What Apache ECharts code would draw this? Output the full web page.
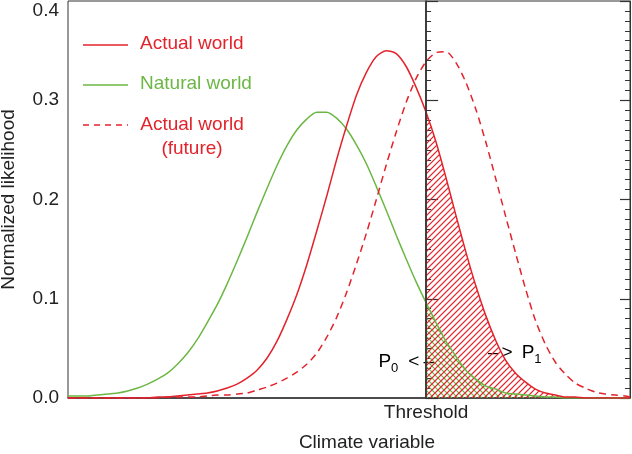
<!DOCTYPE html>
<html><head><meta charset="utf-8">
<script src="https://cdn.jsdelivr.net/npm/echarts@6/dist/echarts.min.js"></script>
<style>html,body{margin:0;padding:0;background:#fff}#c{width:632px;height:454px}</style>
</head><body><div id="c"></div>
<script>
// climate variable (arbitrary units, threshold at 0)
const xs = [-36,-35,-34,-33,-32,-31,-30,-29,-28,-27,-26,-25,-24,-23,-22,-21,-20,-19,-18,-17,-16,-15,-14,-13,-12,-11,-10,-9,-8,-7,-6,-5,-4,-3,-2,-1,0,1,2,3,4,5,6,7,8,9,10,11,12,13,14,15,16,17,18,19,20,20.5];
const actualWorld = [0,0,0,0,0,0,0,0,0,0.001,0.001,0.002,0.003,0.004,0.005,0.007,0.010,0.014,0.020,0.028,0.040,0.057,0.079,0.104,0.134,0.168,0.203,0.240,0.274,0.305,0.328,0.344,0.350,0.347,0.334,0.313,0.288,0.258,0.222,0.184,0.147,0.113,0.083,0.058,0.038,0.025,0.016,0.009,0.005,0.003,0.001,0.001,0,0,0,0,0,0];
const naturalWorld = [0.002,0.002,0.002,0.003,0.004,0.005,0.007,0.010,0.014,0.019,0.025,0.034,0.045,0.059,0.076,0.094,0.115,0.138,0.162,0.187,0.211,0.234,0.254,0.270,0.281,0.288,0.288,0.282,0.271,0.255,0.236,0.213,0.189,0.164,0.140,0.117,0.096,0.076,0.057,0.042,0.028,0.019,0.012,0.009,0.005,0.004,0.003,0.002,0.001,0.001,0,0,0,0,0,0,0,0];
const actualFuture = [0,0,0,0,0,0,0,0,0,0,0.001,0.001,0.001,0.001,0.002,0.003,0.003,0.004,0.005,0.008,0.011,0.015,0.020,0.026,0.034,0.045,0.061,0.081,0.106,0.135,0.166,0.200,0.235,0.268,0.298,0.322,0.339,0.348,0.349,0.338,0.318,0.291,0.258,0.221,0.183,0.146,0.110,0.078,0.054,0.036,0.024,0.015,0.010,0.006,0.004,0.003,0.002,0.001];
const threshold = 0;
const thresholdLabel = 'Threshold';
const seriesNames = ['Actual world', 'Natural world', 'Actual world (future)'];
const yMin = 0, yMax = 0.4, yStep = 0.1;

const RED = '#e3232b', GREEN = '#6cb744', INK = '#333', TXT = '#222';
const FONT = "'Liberation Sans', Arial, Helvetica, sans-serif";

const pair = ys => xs.map((x, i) => [x, ys[i]]);
const SM = 0.25;

// hatch lines clipped to the area under a curve, right of the threshold
function hatchGroup(api, ys, s, color, width) {
  const pts = pair(ys).filter(p => p[0] >= threshold).map(p => api.coord(p));
  const base = api.coord([threshold, 0])[1];
  const xT = pts[0][0], xE = pts[pts.length - 1][0];
  const yTop = Math.min(...pts.map(p => p[1]));
  const yc = X => {
    for (let k = 0; k < pts.length - 1; k++) {
      if (X <= pts[k + 1][0]) {
        const t = (X - pts[k][0]) / (pts[k + 1][0] - pts[k][0]);
        return pts[k][1] + t * (pts[k + 1][1] - pts[k][1]);
      }
    }
    return pts[pts.length - 1][1];
  };
  const sp = 6, step = 0.25, out = [];
  let cMin, cMax;
  if (s < 0) { cMin = xT + yTop; cMax = xE + base; } else { cMin = yTop - xE; cMax = base - xT; }
  for (let c = Math.floor(cMin / sp) * sp; c <= cMax; c += sp) {
    let seg = null;
    for (let X = xT; X <= xE + 1e-6; X += step) {
      const Y = c + s * X;
      const inside = Y >= yc(X) && Y <= base;
      if (inside) {
        if (!seg) seg = [X, Y, X, Y]; else { seg[2] = X; seg[3] = Y; }
      } else if (seg) { out.push(seg); seg = null; }
    }
    if (seg) out.push(seg);
  }
  return out.filter(g => Math.abs(g[2] - g[0]) > 0.3).map(g => ({
    type: 'line', shape: {x1: g[0], y1: g[1], x2: g[2], y2: g[3]},
    style: {stroke: color, lineWidth: width}
  }));
}

const chart = echarts.init(document.getElementById('c'), null, {renderer: 'canvas'});
const subRich = {
  p: {fontSize: 19, fontFamily: FONT, color: TXT, lineHeight: 26},
  q: {fontSize: 19, fontFamily: FONT, color: TXT, lineHeight: 26},
  s: {fontSize: 13, fontFamily: FONT, color: TXT, lineHeight: 13, verticalAlign: 'bottom'}
};
chart.setOption({
  animation: false,
  textStyle: {fontFamily: FONT},
  grid: {left: 68, right: 2, top: 1, bottom: 56, show: true, borderColor: INK, borderWidth: 1, outerBoundsMode: 'none', containLabel: false},
  xAxis: {
    type: 'value', min: -36, max: 20.5,
    name: 'Climate variable', nameLocation: 'middle', nameGap: 35,
    nameTextStyle: {fontSize: 19, color: TXT, padding: [0, 0, 0, 36]},
    axisLine: {show: true, lineStyle: {color: INK, width: 1.5}},
    axisTick: {show: false},
    splitLine: {show: false},
    axisLabel: {customValues: [threshold], formatter: () => thresholdLabel, fontSize: 19, color: TXT, margin: 5}
  },
  yAxis: [{
    type: 'value', min: yMin, max: yMax, interval: yStep,
    name: 'Normalized likelihood', nameLocation: 'middle', nameGap: 50,
    nameTextStyle: {fontSize: 19, color: TXT},
    axisLine: {show: true, lineStyle: {color: INK, width: 1.5}},
    axisTick: {show: true, inside: true, length: 12, lineStyle: {color: INK, width: 1.2}},
    minorTick: {show: true, splitNumber: 10, length: 5, lineStyle: {color: INK, width: 1}},
    splitLine: {show: false},
    axisLabel: {
      fontSize: 19, color: TXT, margin: 9,
      formatter: v => Math.abs(v - yMax) < 1e-9 ? '{t|' + v.toFixed(1) + '}' : v.toFixed(1),
      rich: {t: {fontSize: 19, color: TXT, fontFamily: FONT, padding: [20, 0, 0, 0]}}
    }
  }, {
    type: 'value', min: yMin, max: yMax, interval: yStep, position: 'right',
    axisLine: {show: true, lineStyle: {color: INK, width: 1}},
    axisTick: {show: true, inside: true, length: 10, lineStyle: {color: INK, width: 1.2}},
    minorTick: {show: true, splitNumber: 10, length: 5, lineStyle: {color: INK, width: 1}},
    splitLine: {show: false},
    axisLabel: {show: false}
  }],
  series: [
    {type: 'custom', coordinateSystem: 'cartesian2d', silent: true, clip: true, z: 1,
     data: [[threshold, 0]],
     renderItem: (params, api) => ({type: 'group', children:
       hatchGroup(api, naturalWorld, 1, GREEN, 1.2).concat(hatchGroup(api, actualWorld, -1, RED, 1.3))})},
    {name: seriesNames[1], type: 'line', data: pair(naturalWorld), smooth: SM, symbol: 'none',
     lineStyle: {color: GREEN, width: 1.5}, z: 3},
    {name: seriesNames[0], type: 'line', data: pair(actualWorld), smooth: SM, symbol: 'none',
     lineStyle: {color: RED, width: 1.5}, z: 4,
     markLine: {silent: true, symbol: ['none', 'none'], label: {show: false},
       lineStyle: {color: INK, width: 1.5, type: 'solid'}, data: [{xAxis: threshold}]}},
    {name: seriesNames[2], type: 'line', data: pair(actualFuture), smooth: SM, symbol: 'none',
     lineStyle: {color: RED, width: 1.5, type: [7, 5]}, z: 4}
  ],
  graphic: [
    {type: 'line', shape: {x1: 83, y1: 45, x2: 128, y2: 45}, style: {stroke: RED, lineWidth: 1.5}},
    {type: 'text', x: 140, y: 44, style: {text: seriesNames[0], fill: RED, font: '19px ' + FONT, verticalAlign: 'middle'}},
    {type: 'line', shape: {x1: 83, y1: 85, x2: 128, y2: 85}, style: {stroke: GREEN, lineWidth: 1.5}},
    {type: 'text', x: 140, y: 84, style: {text: seriesNames[1], fill: GREEN, font: '19px ' + FONT, verticalAlign: 'middle'}},
    {type: 'line', shape: {x1: 83, y1: 125, x2: 128, y2: 125}, style: {stroke: RED, lineWidth: 1.5, lineDash: [6, 5]}},
    {type: 'text', x: 192, y: 113, style: {text: 'Actual world\n(future)', fill: RED, font: '19px ' + FONT, align: 'center', verticalAlign: 'top', lineHeight: 24}},
    {type: 'text', x: 434, y: 362, style: {
      text: '{p|P}{s|0}{q|<}{p|–}', align: 'right', verticalAlign: 'middle',
      rich: Object.assign({}, subRich, {q: Object.assign({}, subRich.q, {padding: [0, 4, 0, 10]})})}},
    {type: 'text', x: 488, y: 353, style: {
      text: '{p|–}{q|>}{p|P}{s|1}', align: 'left', verticalAlign: 'middle',
      rich: Object.assign({}, subRich, {q: Object.assign({}, subRich.q, {padding: [0, 9, 0, 3]})})}}
  ]
});
</script></body></html>
